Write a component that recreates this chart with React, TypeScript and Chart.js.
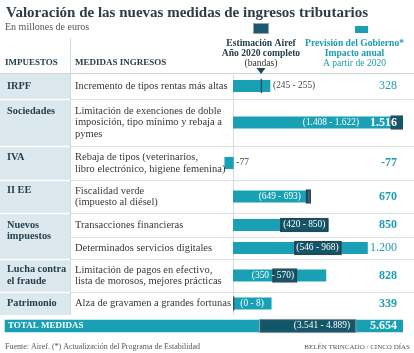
import React, { useEffect, useRef } from 'react';
import { Chart, registerables } from 'chart.js';

Chart.register(...registerables);

// ---------------- data ----------------
const titleText = 'Valoración de las nuevas medidas de ingresos tributarios';
const subtitleText = 'En millones de euros';
const sourceText = 'Fuente: Airef. (*) Actualización del Programa de Estabilidad';
const creditText = 'BELÉN TRINCADO / CINCO DÍAS';

const colTaxHeader = 'IMPUESTOS';
const colMeasureHeader = 'MEDIDAS INGRESOS';
const airefHeader = ['Estimación Airef', 'Año 2020 completo', '(bandas)'];
const govHeader = ['Previsión del Gobierno*', 'Impacto anual', 'A partir de 2020'];

const taxGroups = ['IRPF', 'Sociedades', 'IVA', 'II EE', 'Nuevos\nimpuestos', 'Lucha contra\nel fraude', 'Patrimonio'];
const measureGroup = [0, 1, 2, 3, 4, 4, 5, 6];
const measures = [
  'Incremento de tipos rentas más altas',
  'Limitación de exenciones de doble\nimposición, tipo mínimo y rebaja a\npymes',
  'Rebaja de tipos (veterinarios,\nlibro electrónico, higiene femenina)',
  'Fiscalidad verde\n(impuesto al diésel)',
  'Transacciones financieras',
  'Determinados servicios digitales',
  'Limitación de pagos en efectivo,\nlista de morosos, mejores prácticas',
  'Alza de gravamen a grandes fortunas',
];
const govImpact = [328, 1516, -77, 670, 850, 1200, 828, 339];
const airefLow = [245, 1408, -77, 649, 420, 546, 350, 0];
const airefHigh = [255, 1622, -77, 693, 850, 968, 570, 8];

const totalLabel = 'TOTAL MEDIDAS';
const totalGov = 5654;
const totalAirefLow = 3541;
const totalAirefHigh = 4889;

// ---------------- layout / style ----------------
const WIDTH = 414;
const HEIGHT = 353;
const TEAL = '#19a0b5';
const TEAL_TEXT = '#1d9cb1';
const SLATE = '#27404e';
const BODY = '#383838';
const BAND_FILL = 'rgba(14,42,58,0.62)';
const BAND_BORDER = '#344c59';
const TOTAL_BAND_BORDER = '#93a4ac';
const COL_BG = '#dbe8ee';
const SEP = '#dbe1e4';
const SERIF = '"Liberation Serif", "DejaVu Serif", serif';

const rowEdges = [73, 99, 146, 180, 213, 237, 259, 292, 315];
const totalCenter = 326;
const lineGap = 11.5;
const taxColX = 7;
const measureColX = 75;
const taxColRight = 70;
const numberRight = 397;
const airefColCenter = 261;
const govColCenter = 354.5;
const govBold = [false, true, true, true, true, false, true, true];
const bandLabelMode = ['after', 'beforeNumber', 'afterZero', 'beforeLow', 'insideHigh', 'insideHigh', 'insideHigh', 'barStart'];

const rowCenters = govImpact.map((_, i) => (rowEdges[i] + rowEdges[i + 1]) / 2);

function fmt(n: number): string {
  const s = Math.abs(n).toString().replace(/\B(?=(\d{3})+(?!\d))/g, '.');
  return (n < 0 ? '-' : '') + s;
}
function bandText(lo: number, hi: number): string {
  return lo === hi ? fmt(lo) : `(${fmt(lo)} - ${fmt(hi)})`;
}

function txt(ctx: CanvasRenderingContext2D, s: string, x: number, y: number, font: string, color: string, align: CanvasTextAlign = 'left', baseline: CanvasTextBaseline = 'middle') {
  ctx.font = font;
  ctx.fillStyle = color;
  ctx.textAlign = align;
  ctx.textBaseline = baseline;
  ctx.fillText(s, x, y);
}

const tablePlugin = {
  id: 'tablePlugin',
  beforeDatasetsDraw(chart: any) {
    const ctx: CanvasRenderingContext2D = chart.ctx;
    const xs = chart.scales.x;
    ctx.save();
    ctx.fillStyle = '#ffffff';
    ctx.fillRect(0, 0, WIDTH, HEIGHT);

    const top = rowEdges[0];
    const bottom = rowEdges[rowEdges.length - 1];
    ctx.fillStyle = COL_BG;
    ctx.fillRect(0, top, taxColRight, bottom - top);

    ctx.lineWidth = 1;
    ctx.strokeStyle = '#cfd6da';
    ctx.beginPath();
    ctx.moveTo(0, top + 0.5);
    ctx.lineTo(WIDTH, top + 0.5);
    ctx.stroke();

    for (let i = 1; i < rowEdges.length - 1; i++) {
      const y = rowEdges[i] + 0.5;
      const same = measureGroup[i - 1] === measureGroup[i];
      if (!same) {
        ctx.strokeStyle = '#ffffff';
        ctx.lineWidth = 1.5;
        ctx.beginPath();
        ctx.moveTo(0, y);
        ctx.lineTo(taxColRight, y);
        ctx.stroke();
      }
      ctx.strokeStyle = SEP;
      ctx.lineWidth = 1;
      ctx.beginPath();
      ctx.moveTo(taxColRight, y);
      ctx.lineTo(WIDTH, y);
      ctx.stroke();
    }

    ctx.strokeStyle = '#d3dadd';
    ctx.beginPath();
    ctx.moveTo(taxColRight + 0.5, 38);
    ctx.lineTo(taxColRight + 0.5, bottom);
    ctx.stroke();

    const x0 = Math.round(xs.getPixelForValue(0)) + 0.5;
    ctx.strokeStyle = '#d6dcdf';
    ctx.beginPath();
    ctx.moveTo(x0, top);
    ctx.lineTo(x0, bottom);
    ctx.stroke();
    ctx.restore();
  },
  afterDatasetsDraw(chart: any) {
    const ctx: CanvasRenderingContext2D = chart.ctx;
    const xs = chart.scales.x;
    const x2 = chart.scales.x2;
    ctx.save();

    txt(ctx, titleText, 6, 17, `bold 15px ${SERIF}`, '#2e3c46', 'left', 'alphabetic');
    txt(ctx, subtitleText, 5, 27, `10px ${SERIF}`, '#555', 'left');

    ctx.fillStyle = '#1d5870';
    ctx.fillRect(254, 24, 14, 9);
    ctx.strokeStyle = TOTAL_BAND_BORDER;
    ctx.lineWidth = 1;
    ctx.strokeRect(253.5, 23.5, 15, 10);
    ctx.fillStyle = TEAL;
    ctx.fillRect(355, 26, 13, 7);

    airefHeader.forEach((s, k) => txt(ctx, s, airefColCenter, 43.5 + k * 10, `${k < 2 ? 'bold ' : ''}9.6px ${SERIF}`, k < 2 ? SLATE : '#333', 'center'));
    govHeader.forEach((s, k) => txt(ctx, s, govColCenter, 43.5 + k * 10, `${k < 2 ? 'bold ' : ''}9.6px ${SERIF}`, TEAL_TEXT, 'center'));
    ctx.fillStyle = '#1f4a5c';
    ctx.beginPath();
    ctx.moveTo(airefColCenter - 4.5, 68);
    ctx.lineTo(airefColCenter + 4.5, 68);
    ctx.lineTo(airefColCenter, 74);
    ctx.closePath();
    ctx.fill();
    txt(ctx, colTaxHeader, 5, 63, `bold 9px ${SERIF}`, SLATE);
    txt(ctx, colMeasureHeader, measureColX, 63, `bold 9px ${SERIF}`, SLATE);

    const firstLineY: number[] = [];
    measures.forEach((m, i) => {
      const lines = m.split('\n');
      const y0 = rowCenters[i] - ((lines.length - 1) * lineGap) / 2;
      firstLineY.push(y0);
      lines.forEach((l, k) => txt(ctx, l, measureColX, y0 + k * lineGap, `10.5px ${SERIF}`, BODY));
    });

    taxGroups.forEach((g, gi) => {
      const row = measureGroup.indexOf(gi);
      const y0 = firstLineY[row];
      g.split('\n').forEach((l, k) => txt(ctx, l, taxColX, y0 + k * lineGap, `bold 10.3px ${SERIF}`, SLATE));
    });

    const numLeft: number[] = [];
    govImpact.forEach((v, i) => {
      const font = `${govBold[i] ? 'bold ' : ''}12px ${SERIF}`;
      ctx.font = font;
      const w = ctx.measureText(fmt(v)).width;
      const left = numberRight - w;
      numLeft.push(left);
      const end = xs.getPixelForValue(Math.max(v, 0));
      txt(ctx, fmt(v), numberRight, rowCenters[i], font, end > left ? '#ffffff' : TEAL_TEXT, 'right');
    });

    const bandFont = `9.4px ${SERIF}`;
    govImpact.forEach((v, i) => {
      const lo = airefLow[i];
      const hi = airefHigh[i];
      const s = bandText(lo, hi);
      const y = rowCenters[i];
      const a = xs.getPixelForValue(lo);
      const b = xs.getPixelForValue(hi);
      const z = xs.getPixelForValue(0);
      const mode = bandLabelMode[i];
      if (mode === 'after') txt(ctx, s, Math.max(xs.getPixelForValue(v), b) + 3, y, bandFont, '#444', 'left');
      else if (mode === 'afterZero') txt(ctx, s, z + 3, y, bandFont, '#444', 'left');
      else if (mode === 'beforeNumber') txt(ctx, s, numLeft[i] - 11, y, bandFont, '#ffffff', 'right');
      else if (mode === 'beforeLow') txt(ctx, s, a - 5, y, bandFont, '#ffffff', 'right');
      else if (mode === 'insideHigh') txt(ctx, s, b - 3, y, bandFont, '#ffffff', 'right');
      else if (mode === 'barStart') txt(ctx, s, z + 7, y, bandFont, '#ffffff', 'left');
    });

    txt(ctx, totalLabel, 8, totalCenter, `bold 9px ${SERIF}`, '#ffffff');
    txt(ctx, bandText(totalAirefLow, totalAirefHigh), x2.getPixelForValue(totalAirefHigh) - 6, totalCenter, bandFont, '#ffffff', 'right');
    txt(ctx, fmt(totalGov), numberRight, totalCenter, `bold 12px ${SERIF}`, '#ffffff', 'right');

    txt(ctx, sourceText, 5, 347, `8px ${SERIF}`, '#555');
    txt(ctx, creditText, 410, 347, `7px ${SERIF}`, '#555', 'right');
    ctx.restore();
  },
};

export default function App() {
  const ref = useRef<HTMLCanvasElement | null>(null);
  useEffect(() => {
    document.body.style.margin = '0';
    const canvas = ref.current;
    if (!canvas) return;
    const bandRows = govImpact
      .map((_, i) => i)
      .filter((i) => airefLow[i] !== airefHigh[i])
      .map((i) => ({ x: [airefLow[i], airefHigh[i]], y: rowCenters[i] }));
    const chart = new Chart(canvas, {
      type: 'bar',
      data: {
        datasets: [
          {
            label: 'Estimación Airef',
            data: bandRows as any,
            backgroundColor: BAND_FILL,
            borderColor: BAND_BORDER,
            borderWidth: 1,
            borderSkipped: false,
            barThickness: 14,
            grouped: false,
            clip: 0,
            order: 0,
            xAxisID: 'x',
          },
          {
            label: 'Previsión del Gobierno',
            data: govImpact.map((v, i) => ({ x: v, y: rowCenters[i] })) as any,
            backgroundColor: TEAL,
            borderWidth: 0,
            barThickness: 11.5,
            grouped: false,
            order: 1,
            xAxisID: 'x',
          },
          {
            label: 'Total Airef',
            data: [{ x: [totalAirefLow, totalAirefHigh], y: totalCenter }] as any,
            backgroundColor: BAND_FILL,
            borderColor: TOTAL_BAND_BORDER,
            borderWidth: 1,
            borderSkipped: false,
            barThickness: 14,
            grouped: false,
            order: 0,
            xAxisID: 'x2',
          },
          {
            label: 'Total Gobierno',
            data: [{ x: totalGov, y: totalCenter }] as any,
            backgroundColor: TEAL,
            borderWidth: 0,
            barThickness: 12,
            grouped: false,
            order: 1,
            xAxisID: 'x2',
          },
        ],
      },
      options: {
        indexAxis: 'y',
        animation: false,
        responsive: false,
        devicePixelRatio: 1,
        layout: { padding: { left: 0, right: 11, top: 0, bottom: 0 } },
        scales: {
          x: { type: 'linear', min: -2088, max: 1518, display: false, offset: false, grace: 0 },
          x2: { type: 'linear', min: -70, max: 5542, display: false, offset: false, grace: 0 },
          y: { type: 'linear', min: 0, max: HEIGHT, reverse: true, display: false, offset: false, grace: 0 },
        },
        plugins: { legend: { display: false }, tooltip: { enabled: false }, title: { display: false } },
      },
      plugins: [tablePlugin],
    });
    return () => chart.destroy();
  }, []);
  return (
    <div style={{ width: WIDTH, height: HEIGHT }}>
      <canvas ref={ref} width={WIDTH} height={HEIGHT} style={{ display: 'block' }} />
    </div>
  );
}
